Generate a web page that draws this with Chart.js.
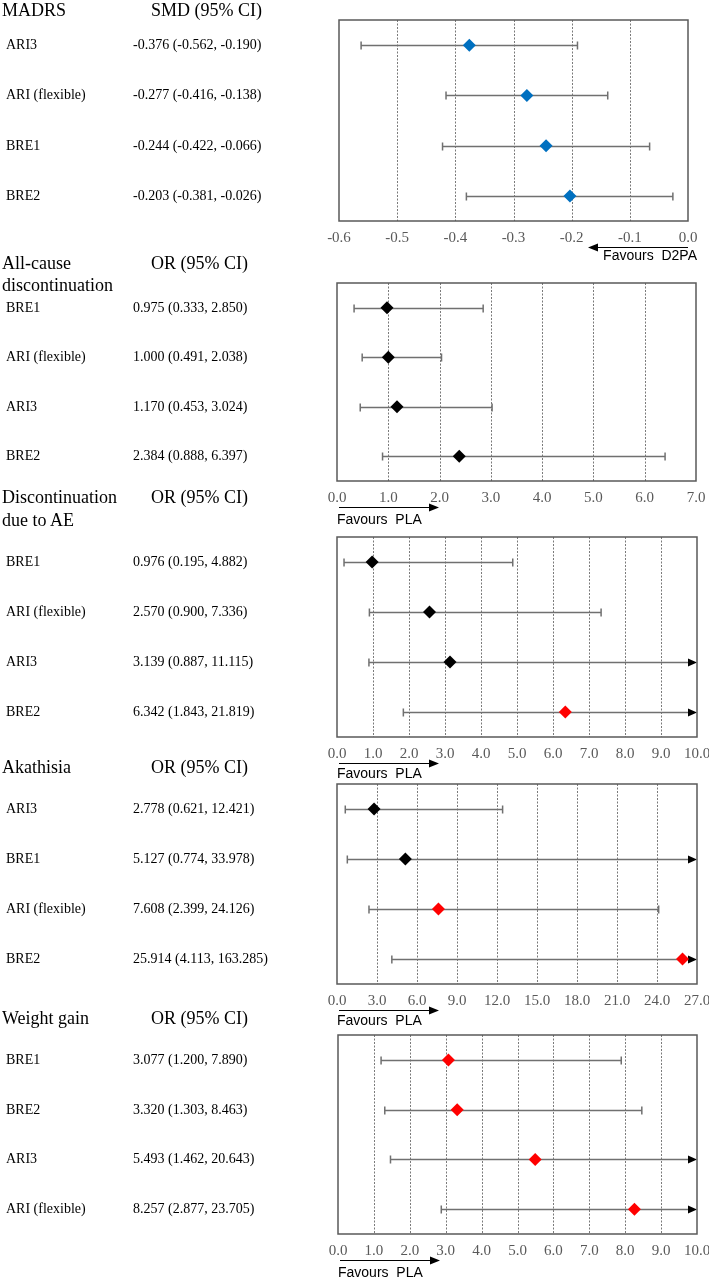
<!DOCTYPE html>
<html>
<head>
<meta charset="utf-8">
<script src="https://cdn.jsdelivr.net/npm/chart.js@4.4.1/dist/chart.umd.min.js"></script>
<style>
  body { margin: 0; background: #fff; }
  #page { position: relative; width: 709px; height: 1279px; overflow: hidden; background: #fff; }
  .t { position: absolute; white-space: pre; line-height: 1; color: #000; font-family: "Liberation Serif", "Times New Roman", serif; }
  .h { font-size: 18px; }
  .r { font-size: 14px; }
  .fav { font-family: "Liberation Sans", Arial, sans-serif; font-size: 14px; }
  canvas { position: absolute; left: 0; }
</style>
</head>
<body>
<div id="page"></div>
<script>
// MADRS (SMD)
const madrsNames = ['ARI3', 'ARI (flexible)', 'BRE1', 'BRE2'];
const madrsEst = [-0.376, -0.277, -0.244, -0.203];
const madrsLow = [-0.562, -0.416, -0.422, -0.381];
const madrsHigh = [-0.190, -0.138, -0.066, -0.026];
const madrsTicks = [-0.6, -0.5, -0.4, -0.3, -0.2, -0.1, 0.0];

// All-cause discontinuation (OR)
const dropNames = ['BRE1', 'ARI (flexible)', 'ARI3', 'BRE2'];
const dropEst = [0.975, 1.000, 1.170, 2.384];
const dropLow = [0.333, 0.491, 0.453, 0.888];
const dropHigh = [2.850, 2.038, 3.024, 6.397];
const dropTicks = [0, 1, 2, 3, 4, 5, 6, 7];

// Discontinuation due to AE (OR)
const aeNames = ['BRE1', 'ARI (flexible)', 'ARI3', 'BRE2'];
const aeEst = [0.976, 2.570, 3.139, 6.342];
const aeLow = [0.195, 0.900, 0.887, 1.843];
const aeHigh = [4.882, 7.336, 11.115, 21.819];
const aeTicks = [0, 1, 2, 3, 4, 5, 6, 7, 8, 9, 10];

// Akathisia (OR)
const akaNames = ['ARI3', 'BRE1', 'ARI (flexible)', 'BRE2'];
const akaEst = [2.778, 5.127, 7.608, 25.914];
const akaLow = [0.621, 0.774, 2.399, 4.113];
const akaHigh = [12.421, 33.978, 24.126, 163.285];
const akaTicks = [0, 3, 6, 9, 12, 15, 18, 21, 24, 27];

// Weight gain (OR)
const wgNames = ['BRE1', 'BRE2', 'ARI3', 'ARI (flexible)'];
const wgEst = [3.077, 3.320, 5.493, 8.257];
const wgLow = [1.200, 1.303, 1.462, 2.877];
const wgHigh = [7.890, 8.463, 20.643, 23.705];
const wgTicks = [0, 1, 2, 3, 4, 5, 6, 7, 8, 9, 10];

const blue = () => '#0070C0';
const sig = (lo) => lo > 1 ? '#FF0000' : '#000000';

// layout of each block: box = [left, top, right, bottom]
const panels = [
  { title: [['MADRS', 10]], stat: 'SMD (95% CI)', names: madrsNames, est: madrsEst, low: madrsLow, high: madrsHigh,
    ticks: madrsTicks, favours: 'Favours  D2PA', dir: -1, box: [339, 20, 688, 220], favY: 35, color: blue },
  { title: [['All-cause', 263], ['discontinuation', 285]], stat: 'OR (95% CI)', names: dropNames, est: dropEst, low: dropLow, high: dropHigh,
    ticks: dropTicks, favours: 'Favours  PLA', dir: 1, box: [337, 283, 696, 480], favY: 39, color: sig },
  { title: [['Discontinuation', 497], ['due to AE', 520]], stat: 'OR (95% CI)', names: aeNames, est: aeEst, low: aeLow, high: aeHigh,
    ticks: aeTicks, favours: 'Favours  PLA', dir: 1, box: [337, 537, 697, 736], favY: 37, color: sig },
  { title: [['Akathisia', 767]], stat: 'OR (95% CI)', names: akaNames, est: akaEst, low: akaLow, high: akaHigh,
    ticks: akaTicks, favours: 'Favours  PLA', dir: 1, box: [337, 784, 697, 983], favY: 37, color: sig },
  { title: [['Weight gain', 1018]], stat: 'OR (95% CI)', names: wgNames, est: wgEst, low: wgLow, high: wgHigh,
    ticks: wgTicks, favours: 'Favours  PLA', dir: 1, box: [338, 1035, 697, 1233], favY: 39, color: sig },
];

const page = document.getElementById('page');
const CW = 740;

function text(str, x, yc, cls, size, right) {
  const d = document.createElement('div');
  d.className = 't ' + cls;
  d.textContent = str;
  d.style.top = (yc - size / 2) + 'px';
  if (right) d.style.right = (709 - x) + 'px';
  else d.style.left = x + 'px';
  page.appendChild(d);
  return d;
}

function forest(p) {
  return {
    id: 'forest',
    beforeDatasetsDraw(chart) {
      const { ctx, chartArea: a, scales: { x, y } } = chart;
      ctx.save();
      // dashed grid lines
      ctx.strokeStyle = '#7a7a7a';
      ctx.lineWidth = 1;
      ctx.setLineDash([2, 1.5]);
      p.ticks.slice(1, -1).forEach(t => {
        const px = Math.round(x.getPixelForValue(t)) + 0.5;
        ctx.beginPath();
        ctx.moveTo(px, a.top);
        ctx.lineTo(px, a.bottom);
        ctx.stroke();
      });
      ctx.setLineDash([]);
      // confidence intervals
      p.est.forEach((v, i) => {
        const yy = Math.round(y.getPixelForValue(i)) + 0.5;
        const x1 = x.getPixelForValue(Math.max(p.low[i], x.min));
        const over = p.high[i] > x.max;
        const x2 = x.getPixelForValue(Math.min(p.high[i], x.max));
        ctx.strokeStyle = '#707070';
        ctx.lineWidth = 1.5;
        ctx.beginPath();
        ctx.moveTo(x1, yy);
        ctx.lineTo(over ? x2 - 6 : x2, yy);
        ctx.moveTo(x1, yy - 4);
        ctx.lineTo(x1, yy + 4);
        if (!over) {
          ctx.moveTo(x2, yy - 4);
          ctx.lineTo(x2, yy + 4);
        }
        ctx.stroke();
        if (over) {
          ctx.fillStyle = '#000';
          ctx.beginPath();
          ctx.moveTo(x2, yy);
          ctx.lineTo(x2 - 9, yy - 4);
          ctx.lineTo(x2 - 9, yy + 4);
          ctx.closePath();
          ctx.fill();
        }
      });
      ctx.restore();
    },
    afterDatasetsDraw(chart) {
      const { ctx, chartArea: a } = chart;
      ctx.save();
      ctx.strokeStyle = '#595959';
      ctx.lineWidth = 1.5;
      ctx.strokeRect(a.left, a.top, a.right - a.left, a.bottom - a.top);
      // favours arrow
      const ay = Math.round(a.bottom) + 26.5;
      const x0 = p.dir > 0 ? a.left + 2 : a.right;
      const x1 = x0 + p.dir * 100;
      ctx.strokeStyle = '#000';
      ctx.fillStyle = '#000';
      ctx.lineWidth = 1;
      ctx.beginPath();
      ctx.moveTo(x0, ay);
      ctx.lineTo(x1 - p.dir * 6, ay);
      ctx.stroke();
      ctx.beginPath();
      ctx.moveTo(x1, ay);
      ctx.lineTo(x1 - p.dir * 10, ay - 4);
      ctx.lineTo(x1 - p.dir * 10, ay + 4);
      ctx.closePath();
      ctx.fill();
      ctx.restore();
    }
  };
}

panels.forEach(p => {
  const [l, t, r, b] = p.box;
  const top = t - 10;
  const h = (b - t) + 60;
  const canvas = document.createElement('canvas');
  canvas.width = CW;
  canvas.height = h;
  canvas.style.top = top + 'px';
  canvas.style.width = CW + 'px';
  canvas.style.height = h + 'px';
  page.appendChild(canvas);

  const colors = p.est.map((v, i) => p.color(p.low[i]));

  const chart = new Chart(canvas.getContext('2d'), {
    type: 'scatter',
    data: {
      datasets: [{
        data: p.est.map((v, i) => ({ x: v, y: i })),
        pointStyle: 'rectRot',
        pointRadius: 6.5,
        pointHoverRadius: 6.5,
        pointBorderWidth: 0,
        backgroundColor: colors,
        borderColor: colors,
      }]
    },
    options: {
      responsive: false,
      animation: false,
      events: [],
      layout: { padding: { left: l, right: CW - r, top: 10, bottom: 15 } },
      plugins: { legend: { display: false }, tooltip: { enabled: false } },
      scales: {
        x: {
          type: 'linear',
          min: p.ticks[0],
          max: p.ticks[p.ticks.length - 1],
          afterBuildTicks: s => { s.ticks = p.ticks.map(v => ({ value: v })); },
          grid: { display: false, drawTicks: false },
          border: { display: false },
          ticks: {
            padding: 9,
            color: '#595959',
            autoSkip: false,
            maxRotation: 0,
            font: { family: '"Liberation Serif", "Times New Roman", serif', size: 15, lineHeight: '16px' },
            callback: v => Number(v).toFixed(1)
          }
        },
        y: { type: 'linear', min: -0.5, max: 3.5, reverse: true, display: false }
      }
    },
    plugins: [forest(p)]
  });

  // left-hand text
  p.title.forEach(([s, y]) => text(s, 2, y, 'h', 18));
  text(p.stat, 151, p.title[0][1], 'h', 18);
  const ys = chart.scales.y;
  p.names.forEach((n, i) => {
    const yc = top + ys.getPixelForValue(i);
    text(n, 6, yc, 'r', 14);
    const f = v => v.toFixed(3);
    text(`${f(p.est[i])} (${f(p.low[i])}, ${f(p.high[i])})`, 133, yc, 'r', 14);
  });
  if (p.dir < 0) text(p.favours, 697, b + p.favY, 'fav', 14, true);
  else text(p.favours, l, b + p.favY, 'fav', 14);
});
</script>
</body>
</html>
